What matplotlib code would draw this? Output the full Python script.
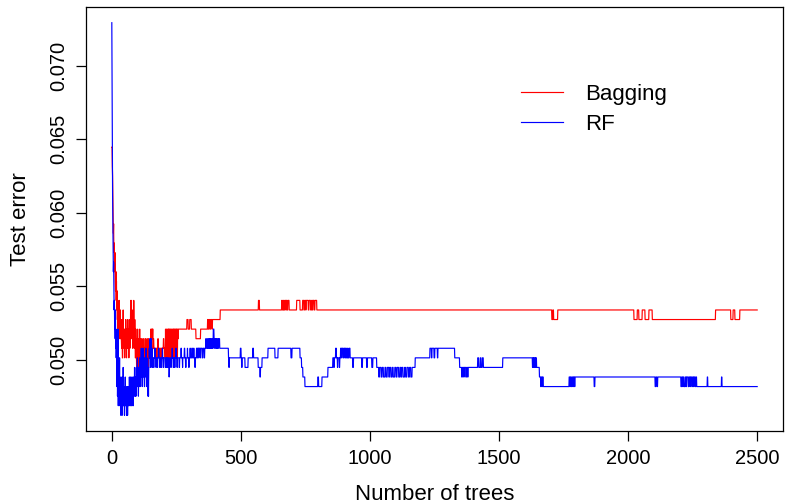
import numpy as np
import matplotlib
matplotlib.use("Agg")
import matplotlib.pyplot as plt

# test set size: every error rate is a count of misclassified cases / n_test
n_test = 1536

# bagging: run lengths (number of trees) and misclassified counts
bag_len = [1, 1, 1, 1, 1, 1, 1, 1,
           1, 1, 1, 1, 1, 1, 2, 1, 1, 1,
           1, 1, 2, 1, 1, 1, 2, 1, 1, 1, 2, 1, 1, 1,
           2, 1, 1, 1, 2, 1, 1, 2, 1, 2, 1, 1, 2, 1, 2, 1, 1, 2, 1, 1, 2, 1, 1, 2, 1, 1, 2,
           1, 2, 1, 1, 2, 1, 1, 2, 1, 1, 1, 2, 1, 1, 2,
           1, 2, 1, 1, 2, 1, 1, 2, 1, 1, 2, 1, 1, 2, 1, 1, 2, 1, 1, 1,
           2, 1, 1, 2, 1, 2, 1, 1, 2, 1, 1, 3, 1, 2, 1, 2, 1, 2, 1, 2,
           2, 1, 2, 3, 1, 2, 1, 2, 3, 2, 2,
           4, 2, 3, 1, 4, 2, 3, 2, 5, 1, 3, 2, 4, 2,
           1, 1, 1, 1, 1, 2, 1, 1, 1, 1, 1, 1, 2, 1, 1, 1, 1, 1, 1, 1, 2, 1, 1, 1,
           1, 1, 1, 1, 1, 1, 1, 1, 2, 1, 1, 1, 1, 1, 1, 1, 1, 1, 1, 1, 2, 1,
           32, 5, 6, 6, 18, 18, 27, 3, 2, 4, 3, 5, 2, 4, 26,
           148, 4, 86, 3, 4, 2, 3, 4, 2, 3, 3, 5, 29, 13, 10,
           5, 3, 4, 2, 8, 3, 6, 4, 3, 2, 5, 3, 7,
           910, 4, 3, 16, 295, 13, 6, 13, 11, 15, 13, 245, 59, 9, 7, 19, 68]
bag_err = [99, 99, 97, 96, 94, 92, 90, 91,
           88, 89, 87, 86, 88, 85, 84, 86, 83, 85,
           82, 84, 81, 83, 80, 82, 81, 79, 83, 81, 80, 82, 79, 81,
           79, 78, 81, 79, 77, 80, 82, 79, 78, 80, 77, 79, 78, 81, 79, 77, 80, 78, 79, 81, 78, 80, 77, 79, 81, 78, 80,
           83, 81, 83, 79, 82, 80, 78, 81, 79, 83, 80, 78, 81, 79, 77,
           80, 78, 76, 79, 77, 80, 78, 76, 79, 77, 78, 80, 77, 76, 79, 78, 75, 77, 79, 76,
           78, 76, 77, 79, 77, 76, 78, 77, 79, 76, 78, 77, 79, 78, 76, 77, 79, 78, 77, 78,
           79, 80, 78, 80, 79, 80, 78, 79, 78, 77, 78,
           78, 77, 78, 79, 78, 77, 78, 77, 78, 77, 78, 79, 78, 77,
           80, 77, 79, 78, 80, 77, 80, 78, 79, 77, 80, 78, 80, 77, 79, 80, 77, 78, 80, 77, 79, 80, 77, 80,
           78, 79, 77, 80, 78, 80, 77, 79, 80, 78, 77, 80, 79, 77, 80, 78, 80, 79, 77, 80, 79, 80,
           80, 81, 80, 81, 80, 79, 80, 81, 80, 81, 80, 81, 80, 81, 81,
           82, 83, 82, 83, 82, 83, 82, 83, 82, 83, 82, 83, 82, 83, 82,
           83, 82, 83, 82, 83, 82, 83, 82, 83, 82, 83, 82, 83,
           82, 81, 82, 81, 82, 81, 82, 81, 82, 81, 82, 81, 82, 81, 82, 81, 82]

# random forest: run lengths and misclassified counts
rf_len = [1, 1, 1, 1, 1, 1, 1, 1,
          1, 1, 1, 1, 1, 1, 1, 1, 1, 1, 1,
          1, 1, 1, 1, 1, 1, 1, 1, 1, 2, 1, 1, 1, 1, 1,
          1, 2, 1, 1, 1, 2, 1, 1, 1, 2, 1, 1, 2, 1, 1, 2, 1,
          1, 2, 1, 1, 2, 1,
          2, 1, 1, 2, 1, 1, 2, 1, 1, 2, 1, 1, 2, 1, 1, 2, 1, 1, 2, 1,
          1, 2, 1, 1, 2, 1, 1, 2, 1, 1, 2, 1, 1, 2, 1,
          2, 1, 1, 2, 1, 2, 1, 2, 1, 1, 2, 1, 2, 1, 1, 2, 1, 1, 2, 1, 1, 1,
          1, 2, 1, 2, 1, 2, 1, 2, 1, 2, 1,
          4, 2, 3, 1, 3, 2, 4, 1, 3, 2, 3, 1, 4, 2, 3, 1, 2, 2, 3,
          3, 2, 4, 1, 3, 2, 3, 1, 2, 4, 2, 3, 1, 3, 2, 4, 1, 3, 2, 3, 1, 3,
          4, 2, 5, 2, 4, 1, 6, 2, 3, 2, 5, 1, 4, 2, 3, 2, 5, 3, 4, 2, 3, 2, 4, 3, 2, 3, 1,
          5, 2, 6, 3, 5, 2, 4, 3, 4, 2, 3, 2, 2, 3, 1, 2, 3, 2, 2, 3, 2, 2, 3, 2, 2, 3, 2, 2, 4,
          34,
          2, 1, 43, 3, 2, 2, 11, 12, 18, 3, 18, 7, 2, 6, 23, 27, 12, 50, 4, 31,
          6, 5, 8, 50, 3, 13, 23, 19,
          4, 2, 5, 3, 4, 1, 6, 2, 3, 4, 2, 5, 3, 4, 2, 3, 4, 2, 4, 4,
          10, 3, 32, 3, 16, 3, 17, 4, 15, 4,
          4, 3, 6, 4, 5, 6, 4, 5, 6, 3, 5, 5, 4, 6, 5, 4, 6, 5, 4, 3, 5, 6, 4, 5, 6, 4, 5, 5, 12,
          57, 6, 2, 8, 3, 10, 2, 7, 58, 19, 8,
          3, 5, 2, 6, 3, 4, 2, 6, 31, 4, 6, 3, 5, 4, 5, 70, 115,
          2, 2, 1, 3, 2, 2, 1, 3, 11, 5, 2, 3, 2, 3, 4, 96,
          3, 2, 4, 3, 3, 2, 4, 2, 4, 70, 3, 233, 3, 4, 3, 90,
          3, 4, 2, 3, 5, 3, 2, 6, 3, 4, 2, 5, 3, 4, 2, 4, 3, 3,
          41, 2, 53, 2, 137]
rf_err = [112, 105, 99, 94, 91, 88, 86, 87,
          84, 82, 83, 80, 81, 79, 82, 78, 80, 77, 79,
          76, 74, 78, 73, 75, 80, 72, 76, 74, 73, 77, 72, 75, 73, 74,
          71, 73, 72, 75, 71, 74, 72, 76, 73, 72, 74, 71, 73, 75, 72, 74, 73,
          71, 72, 74, 71, 73, 72,
          74, 72, 75, 73, 74, 72, 75, 73, 74, 72, 75, 73, 74, 72, 75, 74, 73, 76, 74, 73,
          75, 73, 76, 74, 75, 77, 74, 76, 73, 75, 74, 76, 77, 75, 74,
          76, 78, 75, 77, 74, 76, 78, 75, 77, 76, 74, 77, 76, 75, 78, 76, 74, 77, 75, 76, 73, 75,
          73, 76, 78, 77, 79, 78, 76, 79, 77, 78, 76,
          77, 76, 77, 78, 77, 76, 77, 76, 77, 78, 77, 76, 77, 76, 77, 78, 77, 76, 77,
          77, 76, 77, 76, 77, 76, 77, 75, 76, 77, 76, 77, 78, 77, 76, 77, 76, 77, 78, 77, 76, 77,
          77, 76, 77, 78, 77, 76, 77, 78, 77, 76, 77, 78, 77, 76, 77, 78, 77, 78, 77, 78, 77, 76, 77, 78, 77, 78, 77,
          78, 77, 78, 77, 78, 77, 78, 79, 78, 79, 78, 79, 78, 79, 78, 79, 78, 79, 78, 80, 79, 78, 79, 78, 79, 78, 79, 78, 79,
          78,
          77, 76, 77, 78, 77, 76, 77, 76, 77, 78, 77, 76, 75, 76, 77, 78, 77, 78, 77, 78,
          77, 76, 75, 74, 75, 74, 75, 76,
          77, 76, 77, 78, 77, 76, 77, 76, 77, 78, 77, 78, 77, 78, 77, 78, 77, 78, 77, 78,
          77, 76, 77, 76, 77, 76, 77, 76, 77, 76,
          76, 75, 76, 75, 76, 75, 76, 75, 76, 75, 76, 75, 76, 75, 76, 75, 76, 75, 76, 75, 76, 75, 76, 75, 76, 75, 76, 75, 76,
          77, 78, 77, 78, 77, 78, 77, 78, 78, 77, 76,
          75, 76, 75, 76, 75, 76, 75, 76, 76, 77, 76, 77, 76, 77, 76, 76, 77,
          76, 77, 76, 77, 76, 77, 76, 77, 76, 75, 74, 75, 74, 75, 74, 74,
          75, 74, 75, 74, 75, 74, 75, 74, 75, 75, 74, 75, 74, 75, 74, 75,
          74, 75, 74, 75, 74, 75, 74, 75, 74, 75, 74, 75, 74, 75, 74, 75, 74, 75,
          74, 75, 74, 75, 74]

assert sum(bag_len) == 2500 and len(bag_len) == len(bag_err)
assert sum(rf_len) == 2500 and len(rf_len) == len(rf_err)

bag = np.repeat(bag_err, bag_len) / n_test
rf = np.repeat(rf_err, rf_len) / n_test
trees = np.arange(1, len(bag) + 1)

plt.rcParams['font.family'] = ['Liberation Sans', 'DejaVu Sans']

fig = plt.figure(figsize=(7.86, 5.04), dpi=100)
ax = fig.add_axes([86 / 786, 1 - 431 / 504, 697 / 786, 424 / 504])

ax.plot(trees, bag, color='red', lw=0.85, label='Bagging')
ax.plot(trees, rf, color='blue', lw=0.85, label='RF')

# R-style 4% padding around the data range
xr = trees[-1] - trees[0]
ax.set_xlim(trees[0] - 0.04 * xr, trees[-1] + 0.04 * xr)
lo = min(bag.min(), rf.min())
hi = max(bag.max(), rf.max())
ax.set_ylim(lo - 0.04 * (hi - lo), hi + 0.04 * (hi - lo))

ax.set_xticks([0, 500, 1000, 1500, 2000, 2500])
yt = [0.050, 0.055, 0.060, 0.065, 0.070]
ax.set_yticks(yt)
ax.set_yticklabels(['%.3f' % v for v in yt], rotation=90, va='center')
ax.tick_params(direction='out', length=7, width=0.9, labelsize=14.5, pad=6,
               colors='black')
for s in ax.spines.values():
    s.set_linewidth(0.9)

ax.set_xlabel('Number of trees', fontsize=16, va='center')
ax.xaxis.set_label_coords(0.5, (431 - 494) / 424)
ax.set_ylabel('Test error', fontsize=16, va='center')
ax.yaxis.set_label_coords((21 - 86) / 697, 0.5)

ax.legend(loc='center left', bbox_to_anchor=(0.6237, 0.7585), frameon=False,
          fontsize=16, handlelength=1.92, handletextpad=1.0, labelspacing=0.38,
          borderpad=0, borderaxespad=0)

fig.savefig('out.png', dpi=100)
